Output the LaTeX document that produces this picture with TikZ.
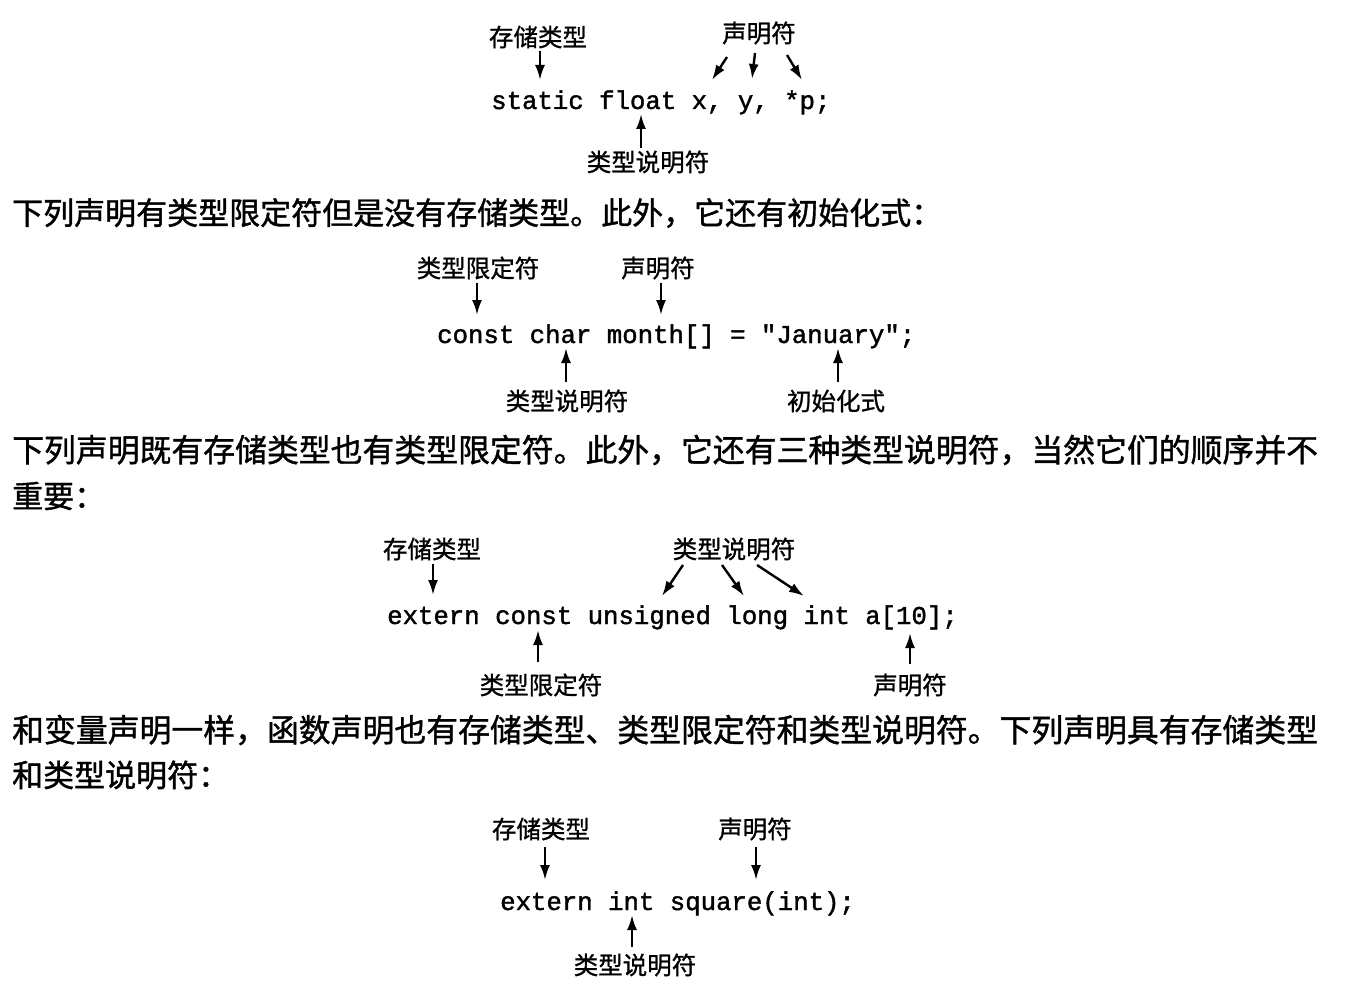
\documentclass[tikz,border=0pt]{standalone}
\usepackage{fontspec}
\newfontfamily\cjk[FakeBold=1]{Noto Sans CJK SC}
\newfontfamily\cjkbody[FakeBold=1.2]{Noto Sans CJK SC}
\newfontfamily\codefont[FakeBold=1.5]{Liberation Mono}
\usetikzlibrary{arrows.meta}
\begin{document}
\begin{tikzpicture}[x=1pt,y=-1pt,
 lab/.style={font=\cjk\fontsize{24.5}{25}\selectfont, inner sep=0pt},
 bodyline/.style={font=\cjkbody\fontsize{31}{31}\selectfont, inner sep=0pt, anchor=west},
 bodyfull/.style={font=\cjkbody\fontsize{31.85}{32}\selectfont, inner sep=0pt, anchor=west},
 codetxt/.style={font=\codefont\fontsize{25.7}{26}\selectfont, inner sep=0pt, anchor=base west},
 arr/.style={-{Latex[length=15pt,width=10pt]}, line width=2.4pt}]
\useasboundingbox[fill=white] (0,0) rectangle (1348,992);

% ---- block 1
\node[lab] (l1a) at (538,37) {存储类型};
\node[lab] (l1b) at (759,33) {声明符};
\node[codetxt] (c1) at (491,109) {static float x, y, *p;};
\node[lab] (l1c) at (648,162) {类型说明符};
\coordinate (s1a) at (540,51); \coordinate (t1a) at (540,80);
\coordinate (s1b) at (727,57); \coordinate (t1b) at (712,80);
\coordinate (s1c) at (755,53); \coordinate (t1c) at (752,79);
\coordinate (s1d) at (787,55); \coordinate (t1d) at (802,80);
\coordinate (s1e) at (641,148); \coordinate (t1e) at (641,114);
\draw[arr] (s1a) -- (t1a);
\draw[arr] (s1b) -- (t1b);
\draw[arr] (s1c) -- (t1c);
\draw[arr] (s1d) -- (t1d);
\draw[arr] (s1e) -- (t1e);

\node[bodyline] (p1) at (12,213) {下列声明有类型限定符但是没有存储类型。此外，它还有初始化式：};

% ---- block 2
\node[lab] (l2a) at (478,268) {类型限定符};
\node[lab] (l2b) at (658,268) {声明符};
\node[codetxt] (c2) at (437,343) {const char month[] = "January";};
\node[lab] (l2c) at (567,401) {类型说明符};
\node[lab] (l2d) at (836,401) {初始化式};
\coordinate (s2a) at (477,283); \coordinate (t2a) at (477,315);
\coordinate (s2b) at (661,283); \coordinate (t2b) at (661,315);
\coordinate (s2c) at (566,382); \coordinate (t2c) at (566,348);
\coordinate (s2d) at (838,382); \coordinate (t2d) at (838,348);
\draw[arr] (s2a) -- (t2a);
\draw[arr] (s2b) -- (t2b);
\draw[arr] (s2c) -- (t2c);
\draw[arr] (s2d) -- (t2d);

\node[bodyfull] (p2) at (12,450) {下列声明既有存储类型也有类型限定符。此外，它还有三种类型说明符，当然它们的顺序并不};
\node[bodyline] (p3) at (12,496) {重要：};

% ---- block 3
\node[lab] (l3a) at (432,549) {存储类型};
\node[lab] (l3b) at (734,549) {类型说明符};
\node[codetxt] (c3) at (387,624) {extern const unsigned long int a[10];};
\node[lab] (l3c) at (541,685) {类型限定符};
\node[lab] (l3d) at (910,685) {声明符};
\coordinate (s3a) at (433,564); \coordinate (t3a) at (433,595);
\coordinate (s3b) at (683,565); \coordinate (t3b) at (662,596);
\coordinate (s3c) at (722,565); \coordinate (t3c) at (744,596);
\coordinate (s3d) at (757,565); \coordinate (t3d) at (804,596);
\coordinate (s3e) at (538,662); \coordinate (t3e) at (538,630);
\coordinate (s3f) at (910,664); \coordinate (t3f) at (910,633);
\draw[arr] (s3a) -- (t3a);
\draw[arr] (s3b) -- (t3b);
\draw[arr] (s3c) -- (t3c);
\draw[arr] (s3d) -- (t3d);
\draw[arr] (s3e) -- (t3e);
\draw[arr] (s3f) -- (t3f);

\node[bodyfull] (p4) at (12,730) {和变量声明一样，函数声明也有存储类型、类型限定符和类型说明符。下列声明具有存储类型};
\node[bodyline] (p5) at (12,775) {和类型说明符：};

% ---- block 4
\node[lab] (l4a) at (541,829) {存储类型};
\node[lab] (l4b) at (755,829) {声明符};
\node[codetxt] (c4) at (500,910) {extern int square(int);};
\node[lab] (l4c) at (635,965) {类型说明符};
\coordinate (s4a) at (545,847); \coordinate (t4a) at (545,880);
\coordinate (s4b) at (756,847); \coordinate (t4b) at (756,880);
\coordinate (s4c) at (632,947); \coordinate (t4c) at (632,915);
\draw[arr] (s4a) -- (t4a);
\draw[arr] (s4b) -- (t4b);
\draw[arr] (s4c) -- (t4c);
\end{tikzpicture}
\end{document}
